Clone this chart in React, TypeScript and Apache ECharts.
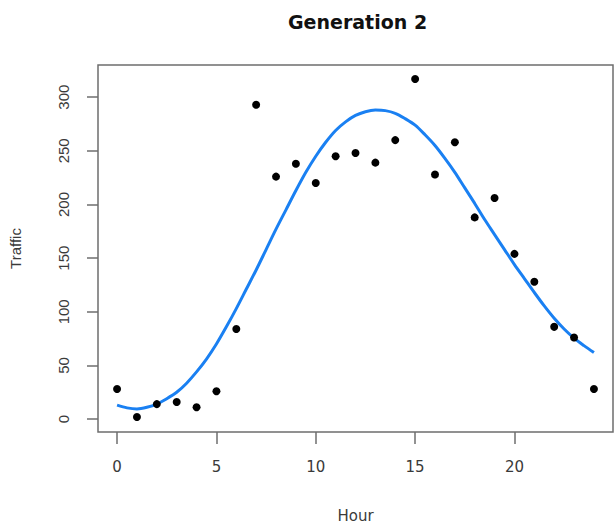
import React, { useEffect, useRef } from "react";
import * as echarts from "echarts";

// Observed hourly traffic
const hours = [0, 1, 2, 3, 4, 5, 6, 7, 8, 9, 10, 11, 12, 13, 14, 15, 16, 17, 18, 19, 20, 21, 22, 23, 24];
const traffic = [28, 2, 14, 16, 11, 26, 84, 293, 226, 238, 220, 245, 248, 239, 260, 317, 228, 258, 188, 206, 154, 128, 86, 76, 28];

// Fitted curve, sampled every half hour
const fitHours = [
  0, 0.5, 1, 1.5, 2, 2.5, 3, 3.5, 4, 4.5, 5, 5.5, 6, 6.5, 7, 7.5, 8, 8.5, 9, 9.5, 10, 10.5, 11, 11.5,
  12, 12.5, 13, 13.5, 14, 14.5, 15, 15.5, 16, 16.5, 17, 17.5, 18, 18.5, 19, 19.5, 20, 20.5, 21, 21.5,
  22, 22.5, 23, 23.5, 24,
];
const fitValues = [
  13, 10.5, 9.5, 11, 14, 19, 25, 33.5, 44, 56, 70, 86, 103, 121, 139, 158, 177, 195, 213, 230, 245, 258, 269, 277,
  283, 286.5, 288, 287.5, 285, 280, 274, 265, 255, 243, 230, 215.5, 201, 186, 172, 158, 144, 131, 118, 105.5,
  94, 84, 75.5, 68.5, 62,
];

const xTicks = [0, 5, 10, 15, 20];
const yTicks = [0, 50, 100, 150, 200, 250, 300];

export default function App() {
  const ref = useRef<HTMLDivElement>(null);

  useEffect(() => {
    if (!ref.current) return;
    const chart = echarts.init(ref.current, undefined, { renderer: "svg" });
    const textColor = "#3a3a3a";
    const lineColor = "#6e6e6e";

    chart.setOption({
      animation: false,
      backgroundColor: "#ffffff",
      title: {
        text: "Generation 2",
        left: 283,
        top: 7,
        textStyle: {
          fontFamily: "DejaVu Sans",
          fontWeight: "bold",
          fontSize: 19,
          color: "#111111",
        },
      },
      grid: {
        left: 97,
        right: 1,
        top: 65,
        bottom: 96,
        show: true,
        borderColor: lineColor,
        borderWidth: 1.5,
        backgroundColor: "transparent",
      },
      xAxis: {
        type: "value",
        min: -0.96,
        max: 24.96,
        name: "Hour",
        nameLocation: "middle",
        nameGap: 76,
        nameTextStyle: { fontFamily: "DejaVu Sans", fontSize: 15, color: textColor },
        axisLine: { show: false, onZero: false },
        splitLine: { show: false },
        axisTick: {
          show: true,
          inside: false,
          length: 12,
          customValues: xTicks,
          lineStyle: { color: lineColor, width: 1.5 },
        },
        axisLabel: {
          customValues: xTicks,
          margin: 27,
          fontFamily: "DejaVu Sans",
          fontSize: 15,
          color: textColor,
        },
      },
      yAxis: {
        type: "value",
        min: -12,
        max: 330,
        name: "Traffic",
        nameLocation: "middle",
        nameRotate: 90,
        nameGap: 75,
        nameTextStyle: { fontFamily: "Liberation Sans", fontSize: 15, color: textColor },
        axisLine: { show: false, onZero: false },
        splitLine: { show: false },
        axisTick: {
          show: true,
          inside: false,
          length: 11,
          customValues: yTicks,
          lineStyle: { color: lineColor, width: 1.5 },
        },
        axisLabel: {
          customValues: yTicks,
          rotate: 90,
          margin: 27,
          fontFamily: "Liberation Sans",
          fontSize: 15,
          color: textColor,
        },
      },
      series: [
        {
          type: "line",
          data: fitHours.map((h, i) => [h, fitValues[i]]),
          smooth: 0.3,
          showSymbol: false,
          lineStyle: { color: "#1a80f2", width: 3 },
          z: 2,
        },
        {
          type: "scatter",
          data: hours.map((h, i) => [h, traffic[i]]),
          symbol: "circle",
          symbolSize: 8,
          itemStyle: { color: "#000000", opacity: 1 },
          z: 3,
        },
      ],
    });

    return () => chart.dispose();
  }, []);

  return (
    <div
      ref={ref}
      style={{ position: "fixed", left: 0, top: 0, width: 614, height: 528, background: "#fff" }}
    />
  );
}
